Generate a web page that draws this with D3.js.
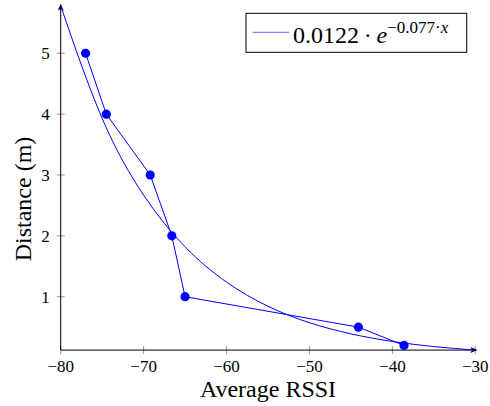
<!DOCTYPE html>
<html>
<head>
<meta charset="utf-8">
<script src="https://cdn.jsdelivr.net/npm/d3@7"></script>
</head>
<body style="margin:0">
<script>
// measured points (Average RSSI, distance)
var rssi = [-77, -74.5, -69.2, -66.6, -65, -44.1, -38.6];
var distance = [5, 4, 3, 2, 1, 0.5, 0.2];

// fitted curve
var fitX = [-80, -75, -70, -65, -60, -55, -50, -45, -40, -35, -30];
var fitY = [5.78, 3.93, 2.67, 1.82, 1.24, 0.843, 0.573, 0.390, 0.265, 0.181, 0.123];

var xTicks = [-80, -70, -60, -50, -40, -30];
var yTicks = [1, 2, 3, 4, 5];

var width = 490,
    height = 406;
var margin = {top: 5.8, right: 14.7, bottom: 55.9, left: 60.7};
var serif = "'Liberation Serif'";

var svg = d3.select("body").append("svg")
    .attr("width", width)
    .attr("height", height);

var x = d3.scaleLinear()
    .domain([-80, -30])
    .range([margin.left, width - margin.right]);

var y = d3.scaleLinear()
    .domain([0.123, 5.78])
    .range([height - margin.bottom, margin.top]);

var x0 = x.range()[0], x1 = x.range()[1];
var y0 = y.range()[0], y1 = y.range()[1];

// ticks crossing the axis lines
var tickLen = 4;
svg.append("g")
    .selectAll("line")
    .data(xTicks)
    .enter().append("line")
    .attr("x1", function(d) { return x(d); })
    .attr("x2", function(d) { return x(d); })
    .attr("y1", y0 - tickLen)
    .attr("y2", y0 + tickLen)
    .attr("stroke", "#777")
    .attr("stroke-width", 0.8);

svg.append("g")
    .selectAll("line")
    .data(yTicks)
    .enter().append("line")
    .attr("x1", x0 - tickLen)
    .attr("x2", x0 + tickLen)
    .attr("y1", function(d) { return y(d); })
    .attr("y2", function(d) { return y(d); })
    .attr("stroke", "#777")
    .attr("stroke-width", 0.8);

// axis lines with arrow heads
svg.append("path")
    .attr("d", "M" + x0 + "," + y0 + "H" + (x1 + 1) + "M" + x0 + "," + y0 + "V" + (y1 - 1))
    .attr("stroke", "#000")
    .attr("stroke-width", 1)
    .attr("fill", "none");

svg.append("path")
    .attr("d", "M" + (x1 + 2) + "," + y0 + "l-7,-3 l2,3 l-2,3 Z")
    .attr("fill", "#000");

svg.append("path")
    .attr("d", "M" + x0 + "," + (y1 - 2) + "l-3,7 l3,-2 l3,2 Z")
    .attr("fill", "#000");

// fitted curve
var fit = d3.line()
    .x(function(d) { return x(d[0]); })
    .y(function(d) { return y(d[1]); })
    .curve(d3.curveNatural);

svg.append("path")
    .datum(d3.zip(fitX, fitY))
    .attr("d", fit)
    .attr("fill", "none")
    .attr("stroke", "#0000ff")
    .attr("stroke-width", 1);

// measurement line + dots
var meas = d3.line()
    .x(function(d) { return x(d[0]); })
    .y(function(d) { return y(d[1]); });

svg.append("path")
    .datum(d3.zip(rssi, distance))
    .attr("d", meas)
    .attr("fill", "none")
    .attr("stroke", "#0000ff")
    .attr("stroke-width", 1);

svg.append("g")
    .selectAll("circle")
    .data(d3.zip(rssi, distance))
    .enter().append("circle")
    .attr("cx", function(d) { return x(d[0]); })
    .attr("cy", function(d) { return y(d[1]); })
    .attr("r", 4.6)
    .attr("fill", "#0000ff");

// legend box
svg.append("rect")
    .attr("x", 246)
    .attr("y", 13.3)
    .attr("width", 220.7)
    .attr("height", 39)
    .attr("fill", "#fff")
    .attr("stroke", "#000")
    .attr("stroke-width", 1);

svg.append("line")
    .attr("x1", 252.7)
    .attr("x2", 289.3)
    .attr("y1", 32.3)
    .attr("y2", 32.3)
    .attr("stroke", "#0000ff")
    .attr("stroke-opacity", 0.6)
    .attr("stroke-width", 1);

// all texts, same way as the font test that worked
var labels = [];
xTicks.forEach(function(d) {
    labels.push({t: d3.format("d")(d), x: x(d), y: y0 + 22, a: "middle", s: 17});
});
yTicks.forEach(function(d) {
    labels.push({t: String(d), x: x0 - 11, y: y(d) + 6, a: "end", s: 17});
});
labels.push({t: "Average RSSI", x: (x0 + x1) / 2, y: 397, a: "middle", s: 24});

svg.selectAll("text.lbl")
    .data(labels)
    .enter().append("text")
    .attr("class", "lbl")
    .attr("x", function(d) { return d.x; })
    .attr("y", function(d) { return d.y; })
    .attr("text-anchor", function(d) { return d.a; })
    .attr("font-size", function(d) { return d.s; })
    .style("font-family", serif)
    .text(function(d) { return d.t; });

svg.append("text")
    .attr("transform", "translate(31,199) rotate(-90)")
    .attr("text-anchor", "middle")
    .attr("font-size", 24)
    .style("font-family", serif)
    .text("Distance (m)");

var lt = svg.append("text")
    .attr("x", 293)
    .attr("y", 42.7)
    .attr("font-size", 24)
    .style("font-family", serif);
lt.append("tspan").text("0.0122\u2009\u00b7\u2009");
lt.append("tspan").style("font-style", "italic").text("e");
lt.append("tspan")
    .attr("font-size", 17)
    .attr("dy", -9.5)
    .text("\u22120.077\u00b7");
lt.append("tspan")
    .attr("font-size", 17)
    .style("font-style", "italic")
    .text("x");
</script>
</body>
</html>
